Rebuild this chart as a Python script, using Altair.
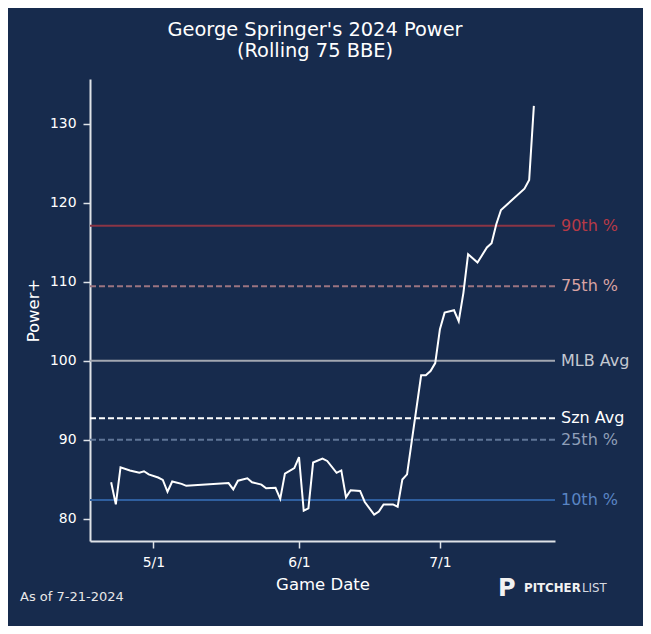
import altair as alt
import pandas as pd

# ---------------- data ----------------
dates = [
    "2024-04-22", "2024-04-23", "2024-04-24", "2024-04-26", "2024-04-28", "2024-04-29",
    "2024-04-30", "2024-05-02", "2024-05-03", "2024-05-04", "2024-05-05", "2024-05-07",
    "2024-05-08", "2024-05-17", "2024-05-18", "2024-05-19", "2024-05-21", "2024-05-22",
    "2024-05-24", "2024-05-25", "2024-05-27", "2024-05-28", "2024-05-29", "2024-05-31",
    "2024-06-01", "2024-06-02", "2024-06-03", "2024-06-04", "2024-06-06", "2024-06-07",
    "2024-06-09", "2024-06-10", "2024-06-11", "2024-06-12", "2024-06-14", "2024-06-15",
    "2024-06-17", "2024-06-18", "2024-06-19", "2024-06-21", "2024-06-22", "2024-06-23",
    "2024-06-24", "2024-06-27", "2024-06-28", "2024-06-29", "2024-06-30", "2024-07-01",
    "2024-07-02", "2024-07-04", "2024-07-05", "2024-07-06", "2024-07-07", "2024-07-09",
    "2024-07-11", "2024-07-12", "2024-07-13", "2024-07-14", "2024-07-19", "2024-07-20",
    "2024-07-21",
]
power = [
    84.6, 81.8, 86.5, 86.1, 85.8, 86.0,
    85.6, 85.2, 84.9, 83.4, 84.7, 84.4,
    84.15, 84.5, 83.7, 84.8, 85.1, 84.6,
    84.3, 83.85, 83.9, 82.5, 85.7, 86.4,
    87.8, 81.0, 81.3, 87.1, 87.6, 87.3,
    85.8, 86.1, 82.7, 83.6, 83.5, 82.1,
    80.5, 80.9, 81.8, 81.8, 81.5, 84.95,
    85.6, 98.15, 98.15, 98.7, 99.7, 104.0,
    106.1, 106.4, 105.0, 108.6, 113.5, 112.45,
    114.35, 114.9, 117.3, 119.1, 121.8, 122.9,
    132.3,
]

ref_names = ["90th %", "75th %", "MLB Avg", "Szn Avg", "25th %", "10th %"]
ref_values = [117.1, 109.45, 100.0, 92.7, 90.0, 82.35]

y_ticks = [80, 90, 100, 110, 120, 130]
x_tick_months = [5, 6, 7]

title_lines = ["George Springer's 2024 Power", "(Rolling 75 BBE)"]
as_of_text = "As of 7-21-2024"

# ---------------- styles ----------------
BG = "#172b4d"
AX = "#dfe3e8"
FONT = "DejaVu Sans"
line_colors = ["#8b3545", "#9c7480", "#a2a7b1", "#ffffff", "#5f7597", "#2f5f9f"]
text_colors = ["#b73a47", "#d9a3a3", "#c3c8d1", "#ffffff", "#8f9fb8", "#5a85c4"]
dashes = [[1, 0], [6, 3], [1, 0], [6, 3], [6, 3], [1, 0]]

W, H = 465, 462

df = pd.DataFrame({"date": dates, "power": power})
ref_df = pd.DataFrame({"name": ref_names, "value": ref_values})

x_scale = alt.Scale(
    type="utc",
    domain=[
        alt.DateTime(year=2024, month=4, date=17, hours=12, utc=True),
        alt.DateTime(year=2024, month=7, date=25, hours=12, utc=True),
    ],
)
y_scale = alt.Scale(domain=[77.16, 135.7], nice=False, zero=False)
y_axis = alt.Axis(title="Power+", values=y_ticks, labelPadding=7, titlePadding=8)

x_enc = alt.X(
    "date:T",
    scale=x_scale,
    axis=alt.Axis(
        title="Game Date",
        values=[alt.DateTime(year=2024, month=m, date=1, utc=True) for m in x_tick_months],
        format="%-m/%-d",
        labelPadding=7,
        titlePadding=8,
    ),
)

line = alt.Chart(df).mark_line(color="white", strokeWidth=2).encode(
    x=x_enc, y=alt.Y("power:Q", scale=y_scale, axis=y_axis)
)

rules = alt.Chart(ref_df).mark_rule(strokeWidth=2).encode(
    y=alt.Y("value:Q", scale=y_scale, axis=y_axis),
    color=alt.Color("name:N", scale=alt.Scale(domain=ref_names, range=line_colors), legend=None),
    strokeDash=alt.StrokeDash("name:N", scale=alt.Scale(domain=ref_names, range=dashes), legend=None),
)

ref_text = alt.Chart(ref_df).mark_text(
    align="left", baseline="middle", font=FONT, fontSize=16
).encode(
    x=alt.value(W + 6),
    y=alt.Y("value:Q", scale=y_scale, axis=y_axis),
    text="name:N",
    color=alt.Color("name:N", scale=alt.Scale(domain=ref_names, range=text_colors), legend=None),
)


def label(txt, x, y, size, color="white", weight="normal", align="center", baseline="alphabetic"):
    return alt.Chart(pd.DataFrame({"t": [txt]})).mark_text(
        font=FONT, fontSize=size, fontWeight=weight, color=color, align=align, baseline=baseline
    ).encode(text="t:N", x=alt.value(x), y=alt.value(y))


title1 = label(title_lines[0], 225, -43, 19.4)
title2 = label(title_lines[1], 225, -22, 19.4)
as_of = label(as_of_text, -70, 518, 13, color="#e8e8e8", align="left", baseline="middle")
logo_p = label("P", 408, 510, 24, color="#f2f2f2", weight="bold", align="left", baseline="middle")
logo_a = label("PITCHER", 434, 509, 11.8, color="#f2f2f2", weight="bold", align="left", baseline="middle")
logo_b = label("LIST", 492, 509, 11.8, color="#d6dae1", align="left", baseline="middle")

chart = (
    alt.layer(rules, line, ref_text, title1, title2, as_of, logo_p, logo_a, logo_b)
    .resolve_scale(color="independent", strokeDash="independent")
    .properties(
        width=W,
        height=H,
        autosize=alt.AutoSizeParams(type="none"),
        padding={"left": 82, "top": 71, "right": 88, "bottom": 85},
        background=BG,
    )
    .configure_view(stroke=None)
    .configure_axis(
        grid=False,
        domainColor=AX,
        domainWidth=2,
        tickColor=AX,
        tickWidth=1.5,
        tickSize=7,
        labelColor="white",
        labelFont=FONT,
        labelFontSize=13.9,
        titleColor="white",
        titleFont=FONT,
        titleFontSize=16.5,
        titleFontWeight="normal",
    )
)

chart.save("out.html", embed_options={"renderer": "svg", "actions": False})
